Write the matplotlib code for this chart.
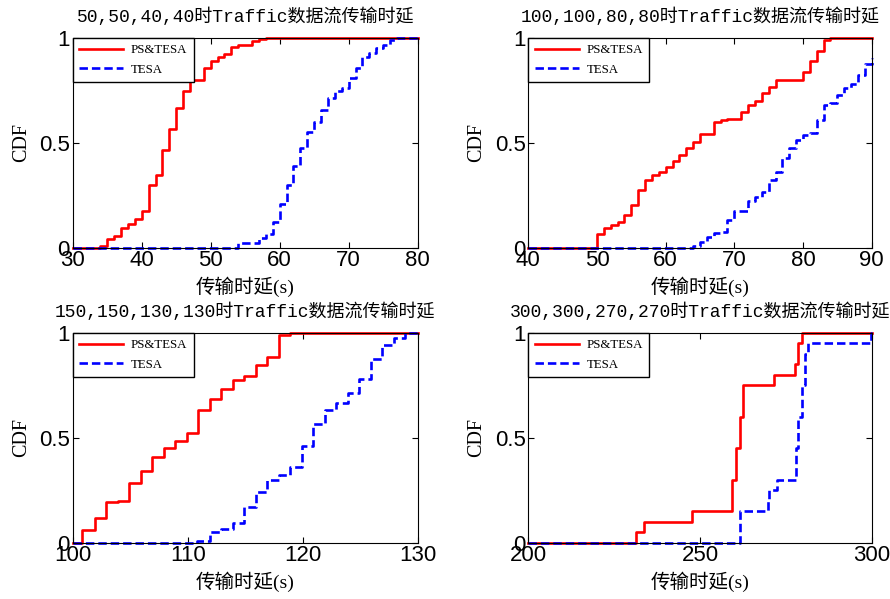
import matplotlib
matplotlib.use('Agg')
import matplotlib.pyplot as plt
import numpy as np

# panel titles and axis ranges
titles = ['50,50,40,40时Traffic数据流传输时延',
          '100,100,80,80时Traffic数据流传输时延',
          '150,150,130,130时Traffic数据流传输时延',
          '300,300,270,270时Traffic数据流传输时延']
xlims = [(30, 80), (40, 90), (100, 130), (200, 300)]
xticks = [[30, 40, 50, 60, 70, 80], [40, 50, 60, 70, 80, 90],
          [100, 110, 120, 130], [200, 250, 300]]

# PS&TESA step CDFs (delay where step happens, CDF after step)
ps_x1 = [34, 35, 36, 37, 38, 39, 40, 41, 42, 43, 44, 45, 46, 47, 49, 50, 51, 52, 53, 54, 56, 57, 58]
ps_y1 = [0.01, 0.04, 0.057, 0.095, 0.113, 0.135, 0.176, 0.30, 0.344, 0.465, 0.565, 0.667, 0.746,
         0.80, 0.857, 0.889, 0.906, 0.92, 0.954, 0.965, 0.984, 0.995, 1.0]
ps_x2 = [50, 51, 52, 53, 54, 55, 56, 57, 58, 59, 60, 61, 62, 63, 64, 65, 67, 68, 69, 71, 72, 73,
         74, 75, 76, 80, 81, 82, 83, 84, 85]
ps_y2 = [0.063, 0.095, 0.11, 0.124, 0.155, 0.203, 0.275, 0.32, 0.346, 0.36, 0.386, 0.413, 0.44,
         0.476, 0.505, 0.54, 0.60, 0.608, 0.615, 0.647, 0.68, 0.70, 0.735, 0.767, 0.80, 0.838,
         0.889, 0.936, 0.989, 0.997, 1.0]
ps_x3 = [100.8, 101.9, 102.9, 103.9, 104.9, 105.9, 106.9, 107.9, 108.9, 109.9, 110.9, 111.9,
         112.9, 113.9, 114.9, 115.9, 116.9, 117.9, 118.9]
ps_y3 = [0.06, 0.116, 0.195, 0.2, 0.283, 0.341, 0.41, 0.452, 0.486, 0.52, 0.632, 0.684, 0.732,
         0.775, 0.794, 0.846, 0.886, 0.989, 1.0]
ps_x4 = [231.4, 233.7, 247.8, 259.4, 260.5, 261.7, 262.6, 271.6, 277.7, 278.5, 279.6]
ps_y4 = [0.05, 0.10, 0.15, 0.30, 0.45, 0.60, 0.75, 0.80, 0.85, 0.95, 1.0]

# TESA step CDFs
te_x1 = [54, 57, 58, 59, 60, 61, 62, 63, 64, 65, 66, 67, 68, 69, 70, 71, 72, 73, 74, 75, 76, 77]
te_y1 = [0.02, 0.044, 0.067, 0.124, 0.21, 0.30, 0.39, 0.476, 0.55, 0.60, 0.655, 0.714, 0.746,
         0.759, 0.806, 0.857, 0.906, 0.925, 0.949, 0.965, 0.989, 1.0]
te_x2 = [64, 65, 66, 67, 68, 69, 70, 72, 73, 74, 75, 76, 77, 78, 79, 80, 81, 82, 83, 84, 85, 86,
         87, 88, 89, 90]
te_y2 = [0.01, 0.029, 0.052, 0.068, 0.076, 0.13, 0.176, 0.22, 0.243, 0.267, 0.32, 0.36, 0.425,
         0.473, 0.513, 0.537, 0.544, 0.608, 0.68, 0.687, 0.727, 0.759, 0.78, 0.822, 0.873, 0.905]
te_x3 = [110.8, 111.9, 112.9, 113.9, 114.9, 115.9, 116.9, 117.9, 118.9, 119.9, 120.9, 121.9,
         122.9, 123.9, 124.9, 125.9, 126.9, 127.9, 128.9]
te_y3 = [0.01, 0.052, 0.063, 0.095, 0.17, 0.243, 0.298, 0.322, 0.362, 0.46, 0.565, 0.632, 0.663,
         0.714, 0.78, 0.875, 0.94, 0.973, 1.0]
te_x4 = [261.7, 269.7, 270.2, 272.5, 278.0, 278.6, 279.6, 280.6, 281.6, 299.7]
te_y4 = [0.15, 0.20, 0.25, 0.30, 0.45, 0.60, 0.75, 0.90, 0.95, 1.0]

ps_x = [ps_x1, ps_x2, ps_x3, ps_x4]
ps_y = [ps_y1, ps_y2, ps_y3, ps_y4]
te_x = [te_x1, te_x2, te_x3, te_x4]
te_y = [te_y1, te_y2, te_y3, te_y4]

cjk_title = ['Liberation Mono', 'Noto Sans CJK SC']
cjk_serif = ['Liberation Serif', 'Noto Sans CJK SC']

fig = plt.figure(figsize=(8.9, 5.99), dpi=100)
positions = [[0.0817, 0.5865, 0.3876, 0.3506], [0.5936, 0.5865, 0.3858, 0.3506],
             [0.0817, 0.094, 0.3876, 0.3506], [0.5936, 0.094, 0.3858, 0.3506]]


def stair(xs, ys, lo, hi):
    # extend the step curve to both axis limits
    sx = np.r_[lo, xs, hi]
    sy = np.r_[0, ys, ys[-1]]
    return sx, sy


for i in range(4):
    ax = fig.add_axes(positions[i])
    lo, hi = xlims[i]
    sx, sy = stair(ps_x[i], ps_y[i], lo, hi)
    ax.step(sx, sy, where='post', color='red', lw=1.9, label='PS&TESA', clip_on=False)
    sx, sy = stair(te_x[i], te_y[i], lo, hi)
    ax.step(sx, sy, where='post', color='blue', lw=1.9, linestyle=(0, (3.2, 1.5)),
            label='TESA', clip_on=False)
    ax.set_xlim(lo, hi)
    ax.set_ylim(0, 1)
    ax.set_xticks(xticks[i])
    ax.set_yticks([0, 0.5, 1])
    ax.set_yticklabels(['0', '0.5', '1'])
    ax.tick_params(direction='in', top=True, right=True, length=4, labelsize=16, pad=2)
    for lab in ax.get_xticklabels() + ax.get_yticklabels():
        lab.set_family('Liberation Sans')
    ax.set_title(titles[i], family=cjk_title, fontsize=13, pad=11)
    ax.set_xlabel('传输时延(s)', family=cjk_serif, fontsize=14, labelpad=4)
    ax.set_ylabel('CDF', family='Liberation Serif', fontsize=14.5, labelpad=6)
    leg = ax.legend(loc='upper left', borderaxespad=0, fancybox=False,
                    prop={'family': 'Liberation Serif', 'size': 9.3},
                    handlelength=3.4, handletextpad=0.6, labelspacing=0.6,
                    borderpad=0.5, framealpha=1)
    leg.get_frame().set_edgecolor('black')
    leg.get_frame().set_linewidth(1.0)

plt.savefig('out.png', dpi=100)
